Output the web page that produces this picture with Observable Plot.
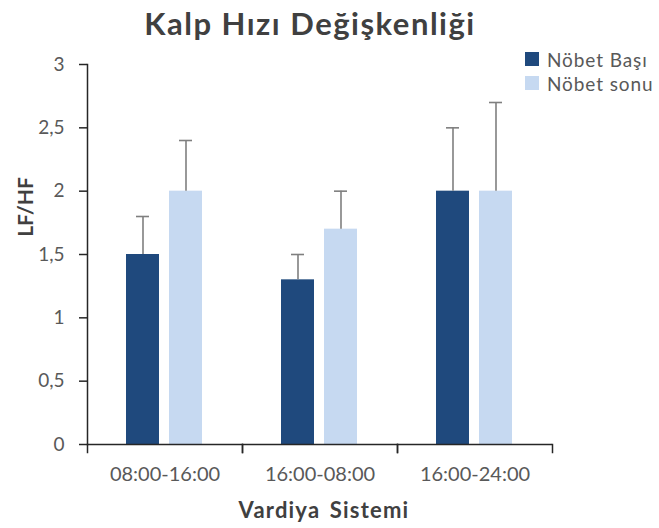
<!DOCTYPE html>
<html>
<head>
<meta charset="utf-8">
<script src="https://cdn.jsdelivr.net/npm/d3@7"></script>
<script src="https://cdn.jsdelivr.net/npm/@observablehq/plot@0.6"></script>
<style>
  html, body { margin: 0; padding: 0; background: #fff; }
  #wrap { position: relative; width: 659px; height: 528px; font-family: Lato, "Open Sans", sans-serif; }
  #wrap svg { position: absolute; left: 0; top: 0; }
  .title { position: absolute; left: 0; width: 620px; top: 4px; text-align: center; font-size: 31px; letter-spacing: 1.5px; font-weight: bold; color: #404040; }
  .ylab { position: absolute; left: 24px; top: 207px; transform: translate(-50%, -50%) rotate(-90deg); font-size: 21px; font-weight: bold; color: #404040; white-space: nowrap; }
  .xlab { position: absolute; left: 324px; top: 509px; transform: translate(-50%, -50%); font-size: 22px; font-weight: bold; color: #404040; white-space: nowrap; letter-spacing: 1.2px; word-spacing: 3px; }
  .legend { position: absolute; left: 525px; top: 47px; font-size: 19px; letter-spacing: 0.9px; color: #595959; white-space: nowrap; }
  .legend div { display: flex; align-items: center; height: 24px; white-space: nowrap; }
  .legend span.sw { display: inline-block; flex: none; width: 14px; height: 14px; margin-right: 8px; }
</style>
</head>
<body>
<div id="wrap"></div>
<script>
const categories = ["08:00-16:00", "16:00-08:00", "16:00-24:00"];
const series = ["Nöbet Başı", "Nöbet sonu"];
const colors = ["#1F497D", "#C6D9F1"];
const basi = [1.5, 1.3, 2.0];
const sonu = [2.0, 1.7, 2.0];
const basiErr = [0.3, 0.2, 0.5];
const sonuErr = [0.4, 0.3, 0.7];
const yTicks = [0, 0.5, 1, 1.5, 2, 2.5, 3];
const titleText = "Kalp Hızı Değişkenliği";
const yLabel = "LF/HF";
const xLabel = "Vardiya Sistemi";

const rows = [];
categories.forEach((c, i) => {
  rows.push({cat: c, s: series[0], v: basi[i], e: basiErr[i]});
  rows.push({cat: c, s: series[1], v: sonu[i], e: sonuErr[i]});
});

const chart = Plot.plot({
  width: 659,
  height: 528,
  marginTop: 64,
  marginBottom: 84,
  marginLeft: 86,
  marginRight: 106,
  style: {fontFamily: "Lato, 'Open Sans', sans-serif", background: "transparent"},
  fx: {domain: categories, padding: 0},
  x: {domain: series, paddingInner: 0.227, paddingOuter: 0.883, axis: null},
  y: {domain: [0, 3]},
  color: {domain: series, range: colors},
  marks: [
    Plot.barY(rows, {fx: "cat", x: "s", y: "v", fill: "s"}),
    Plot.ruleX(rows, {fx: "cat", x: "s", y1: "v", y2: d => d.v + d.e, stroke: "#7F7F7F", strokeWidth: 1.6}),
    Plot.tickY(rows, {fx: "cat", x: "s", y: d => d.v + d.e, stroke: "#7F7F7F", strokeWidth: 1.6, insetLeft: 10, insetRight: 10}),
    Plot.ruleY([0], {stroke: "#262626", strokeWidth: 1.5}),
    Plot.frame({anchor: "left", insetTop: 380, insetBottom: -8, stroke: "#262626", strokeWidth: 1.5}),
    Plot.frame({anchor: "right", insetTop: 380, insetBottom: -8, stroke: "#262626", strokeWidth: 1.5}),
    Plot.frame({anchor: "left", facet: "super", stroke: "#262626", strokeWidth: 1.5}),
    Plot.axisY({ticks: yTicks, tickFormat: d => String(d).replace(".", ","), tickSize: 8, tickPadding: 15, fontSize: 19, color: "#595959", stroke: "#262626", strokeWidth: 1.5, label: null}),
    Plot.axisFx({anchor: "bottom", tickSize: 0, tickPadding: 22, fontSize: 20, color: "#595959", label: null, style: {letterSpacing: "0.5px"}})
  ]
});

const wrap = document.getElementById("wrap");
wrap.appendChild(chart);
const t = document.createElement("div"); t.className = "title"; t.textContent = titleText; wrap.appendChild(t);
const yl = document.createElement("div"); yl.className = "ylab"; yl.textContent = yLabel; wrap.appendChild(yl);
const xl = document.createElement("div"); xl.className = "xlab"; xl.textContent = xLabel; wrap.appendChild(xl);
const lg = document.createElement("div"); lg.className = "legend";
series.forEach((s, i) => {
  const row = document.createElement("div");
  const sw = document.createElement("span"); sw.className = "sw"; sw.style.background = colors[i];
  row.appendChild(sw);
  const tx = document.createElement("span"); tx.textContent = s;
  row.appendChild(tx);
  lg.appendChild(row);
});
wrap.appendChild(lg);
</script>
</body>
</html>
